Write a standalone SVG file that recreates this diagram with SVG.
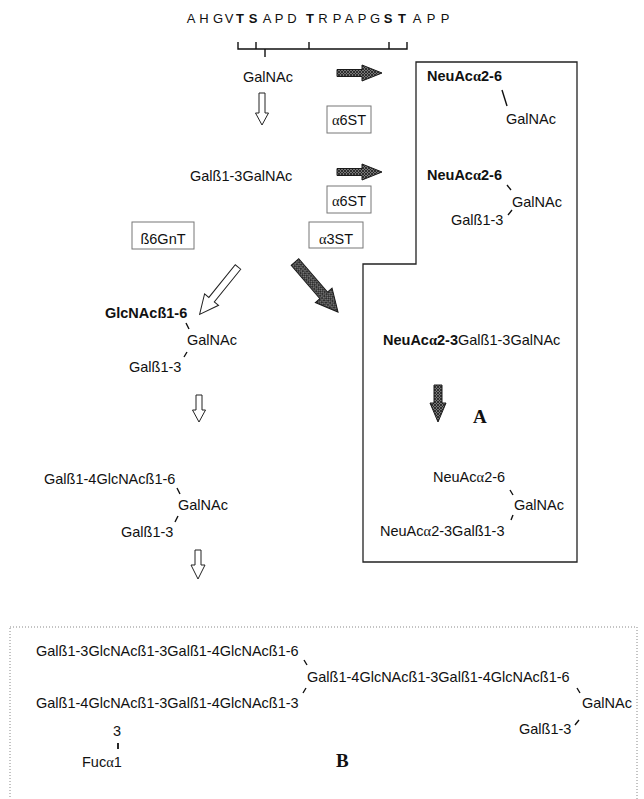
<svg xmlns="http://www.w3.org/2000/svg" width="644" height="799" viewBox="0 0 644 799">
<style>
text{font-family:"Liberation Sans",Arial,sans-serif;font-size:14.5px;fill:#111}
.b{font-weight:bold}
.g{font-family:"Liberation Serif","Times New Roman",serif}
.seq{font-size:13px}
.big{font-family:"Liberation Serif","Times New Roman",serif;font-weight:bold;font-size:19px}
.enz{fill:#fff;stroke:#777;stroke-width:1}
.tick{stroke:#111;stroke-width:1.4;fill:none}
.open{fill:#fff;stroke:#222;stroke-width:1}
.dark{fill:url(#hatch);stroke:#1a1a1a;stroke-width:1}
</style>
<defs>
<pattern id="hatch" width="3" height="3" patternUnits="userSpaceOnUse">
<rect width="3" height="3" fill="#777"/>
<path d="M0,0 L3,3 M3,0 L0,3" stroke="#1e1e1e" stroke-width="0.8"/>
</pattern>
</defs>
<rect width="644" height="799" fill="#fff"/>

<g id="sequence">
<text class="seq" y="23"><tspan x="191" text-anchor="middle">A</tspan><tspan x="204" text-anchor="middle">H</tspan><tspan x="218" text-anchor="middle">G</tspan><tspan x="229" text-anchor="middle">V</tspan><tspan x="240" text-anchor="middle" class="b">T</tspan><tspan x="253" text-anchor="middle" class="b">S</tspan><tspan x="267" text-anchor="middle">A</tspan><tspan x="279" text-anchor="middle">P</tspan><tspan x="292" text-anchor="middle">D</tspan><tspan x="310" text-anchor="middle" class="b">T</tspan><tspan x="323" text-anchor="middle">R</tspan><tspan x="337" text-anchor="middle">P</tspan><tspan x="349" text-anchor="middle">A</tspan><tspan x="362" text-anchor="middle">P</tspan><tspan x="375" text-anchor="middle">G</tspan><tspan x="388" text-anchor="middle" class="b">S</tspan><tspan x="402" text-anchor="middle" class="b">T</tspan><tspan x="417" text-anchor="middle">A</tspan><tspan x="431" text-anchor="middle">P</tspan><tspan x="445" text-anchor="middle">P</tspan></text>
<path class="tick" d="M238,42 V49 H407 V42 M256,42 V49 M309,42 V49 M389,42 V49 M265,49 V57" stroke-width="1.1"/>
</g>

<g id="boxA">
<polygon points="416,62 577,62 577,562 363,562 363,264 416,264" fill="none" stroke="#222" stroke-width="1.3"/>
</g>
<g id="boxB">
<rect x="10" y="627" width="627" height="190" fill="none" stroke="#888" stroke-width="1" stroke-dasharray="1,2"/>
</g>

<g id="n-galnac"><text x="243" y="82">GalNAc</text></g>
<g id="n-core1"><text x="190" y="181">Galß1-3GalNAc</text></g>

<g id="e-a6st-1"><rect class="enz" x="327" y="106" width="44" height="27"/><text x="349" y="125" text-anchor="middle"><tspan class="g">α</tspan>6ST</text></g>
<g id="e-a6st-2"><rect class="enz" x="327" y="186" width="44" height="27"/><text x="349" y="206" text-anchor="middle"><tspan class="g">α</tspan>6ST</text></g>
<g id="e-b6gnt"><rect class="enz" x="132" y="222" width="62" height="27"/><text x="163" y="244" text-anchor="middle">ß6GnT</text></g>
<g id="e-a3st"><rect class="enz" x="309" y="222" width="54" height="26"/><text x="336" y="244" text-anchor="middle"><tspan class="g">α</tspan>3ST</text></g>

<g id="n-stn">
<text x="427" y="81" class="b">NeuAc<tspan class="g">α</tspan>2-6</text>
<text x="506" y="124">GalNAc</text>
</g>
<g id="n-st6core1">
<text x="427" y="180" class="b">NeuAc<tspan class="g">α</tspan>2-6</text>
<text x="512" y="207">GalNAc</text>
<text x="451" y="225">Galß1-3</text>
</g>
<g id="n-st3core1">
<text x="383" y="345"><tspan class="b">NeuAc<tspan class="g">α</tspan>2-3</tspan>Galß1-3GalNAc</text>
</g>
<g id="labelA"><text x="473" y="423" class="big">A</text></g>
<g id="n-disialyl">
<text x="433" y="482">NeuAc<tspan class="g">α</tspan>2-6</text>
<text x="514" y="510">GalNAc</text>
<text x="380" y="536">NeuAc<tspan class="g">α</tspan>2-3Galß1-3</text>
</g>

<g id="n-core2">
<text x="105" y="318" class="b">GlcNAcß1-6</text>
<text x="187" y="345">GalNAc</text>
<text x="129" y="372">Galß1-3</text>
</g>
<g id="n-core2-ext">
<text x="44" y="484">Galß1-4GlcNAcß1-6</text>
<text x="178" y="510">GalNAc</text>
<text x="121" y="537">Galß1-3</text>
</g>

<g id="n-polylac">
<text x="36" y="656">Galß1-3GlcNAcß1-3Galß1-4GlcNAcß1-6</text>
<text x="307" y="682">Galß1-4GlcNAcß1-3Galß1-4GlcNAcß1-6</text>
<text x="36" y="708">Galß1-4GlcNAcß1-3Galß1-4GlcNAcß1-3</text>
<text x="113" y="736">3</text>
<text x="82" y="767">Fuc<tspan class="g">α</tspan>1</text>
<text x="582" y="708">GalNAc</text>
<text x="519" y="734">Galß1-3</text>
</g>
<g id="labelB"><text x="336" y="767" class="big">B</text></g>

<g id="connectors">
<g class="tick">
<path d="M502,90 L507,106"/>
<path d="M507,185 L511,190 M508,215 L512,210"/>
<path d="M510,490 L513,495 M511,520 L513,515"/>
<path d="M186,323 L189,329 M184,357 L187,352"/>
<path d="M177,488 L180,494 M175,522 L178,516"/>
<path d="M304,660 L307,665 M303,693 L306,688"/>
<path d="M577,688 L580,693 M575,725 L579,720"/>
<path d="M118,743 V749" stroke-width="1.8"/>
</g>
<polygon class="dark" points="337,69.5 362,69.5 362,65 382,73 362,81 362,76.5 337,76.5"/>
<polygon class="dark" points="337,168.5 362,168.5 362,164 382,172 362,180 362,175.5 337,175.5"/>
<polygon class="open" points="259,93 265,93 265,113 268.5,113 262,125 255.5,113 259,113"/>
<polygon class="open" points="196,395 202,395 202,410 205.5,410 199,422 192.5,410 196,410"/>
<polygon class="open" points="195,550 201,550 201,565 205,565 198,579 191,565 195,565"/>
<polygon class="dark" points="434,385 442,385 442,403 446,403 438,422 430,403 434,403"/>
<polygon class="open" transform="translate(238,267) rotate(129)" points="0,-3.5 42,-3.5 42,-9 61,0 42,9 42,3.5 0,3.5"/>
<polygon class="dark" transform="translate(295,262) rotate(49.3)" points="0,-5 44,-5 44,-11 66,0 44,11 44,5 0,5"/>
</g>
</svg>
